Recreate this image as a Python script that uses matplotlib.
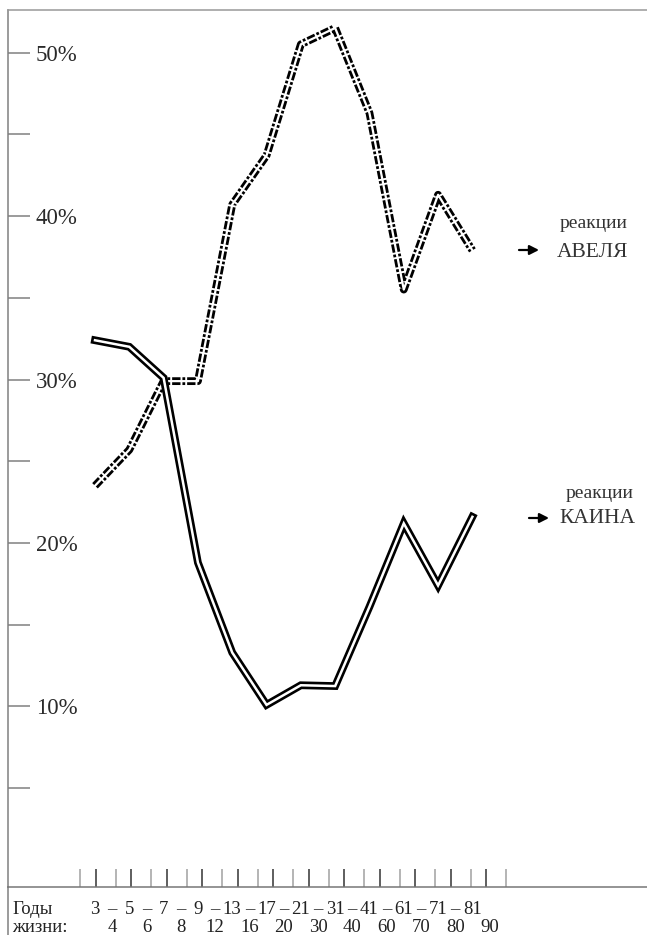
import matplotlib
matplotlib.use('Agg')
import matplotlib.pyplot as plt
from matplotlib.lines import Line2D

# age groups (start / end of each range)
ages_from = ['3', '5', '7', '9', '13', '17', '21', '31', '41', '61', '71', '81']
ages_to = ['4', '6', '8', '12', '16', '20', '30', '40', '60', '70', '80', '90']

# percentages
abel = [23.5, 25.7, 29.9, 29.9, 40.7, 43.7, 50.5, 51.5, 46.3, 35.5, 41.3, 37.9]
cain = [32.4, 32.0, 30.1, 18.8, 13.3, 10.1, 11.3, 11.25, 16.1, 21.2, 17.4, 21.6]

pct_major = [10, 20, 30, 40, 50]
pct_minor = [5, 15, 25, 35, 45]

plt.rcParams['font.family'] = ['Liberation Serif', 'DejaVu Serif']
plt.rcParams['lines.scale_dashes'] = False

W, H = 647, 935
fig = plt.figure(figsize=(W / 100, H / 100), dpi=100)
ax = fig.add_axes([8 / W, 48 / H, 639 / W, 877 / H])

x = list(range(len(cain)))

# double lines: thick black stroke with a thin white core
ax.plot(x, abel, color='black', lw=5.6, linestyle=(0, (6, 1.4, 2.0, 1.4)),
        dash_capstyle='butt', dash_joinstyle='round')
ax.plot(x, abel, color='white', lw=1.6, solid_joinstyle='round')
ax.plot(x, cain, color='black', lw=5.6, solid_joinstyle='miter')
ax.plot(x, cain, color='white', lw=1.8, solid_joinstyle='miter')

ax.set_xlim(-2.536, 16.09)
ax.set_ylim(-1.04, 52.6)

# spines
ax.spines['right'].set_visible(False)
ax.spines['top'].set_color('#999999')
ax.spines['left'].set_color('#808080')
ax.spines['bottom'].set_color('#777777')
for s in ['top', 'left', 'bottom']:
    ax.spines[s].set_linewidth(1.1)
ax.add_line(Line2D([0, 0], [0, -48 / 877], transform=ax.transAxes,
                   color='#808080', lw=1.1, clip_on=False))

# y axis: ticks inside, labels inside
ax.set_yticks(pct_major)
ax.set_yticklabels([str(p) + '%' for p in pct_major])
ax.set_yticks(pct_minor, minor=True)
ax.tick_params(axis='y', which='both', direction='in', length=15.8, width=1.1,
               color='#808080', pad=-20, labelsize=16.5, labelcolor='#2a2a2a')
for lab in ax.get_yticklabels():
    lab.set_horizontalalignment('left')

# x axis: paired little ticks standing on the bottom line
step = 35.5 / 34.3
dark_ticks = [0.015 + step * k for k in range(12)]
light_ticks = [-0.437 + step * k for k in range(13)]
ax.set_xticks(dark_ticks)
ax.set_xticklabels([])
ax.set_xticks(light_ticks, minor=True)
ax.tick_params(axis='x', which='major', direction='in', length=13, width=1.1,
               color='#333333')
ax.tick_params(axis='x', which='minor', direction='in', length=13, width=1.1,
               color='#a0a0a0')

# age labels under the axis
tr = ax.get_xaxis_transform()
y_top = (887 - 914) / 877
y_bot = (887 - 932) / 877
lab_kw = dict(fontsize=13.5, color='#222222', va='baseline', clip_on=False)
ax.text(0.0063, y_top, 'Годы', ha='left', transform=ax.transAxes, **lab_kw)
ax.text(0.0063, y_bot, 'жизни:', ha='left', transform=ax.transAxes, **lab_kw)
for i in range(len(ages_from)):
    ax.text(i, y_top, ages_from[i], ha='center', transform=tr, **lab_kw)
    if i < len(ages_from) - 1:
        ax.text(i + 0.5, y_top, '–', ha='center', transform=tr, **lab_kw)
    ax.text(i + 0.5, y_bot, ages_to[i], ha='center', transform=tr, **lab_kw)

# series captions on the right
txt = '#333333'
fig.text(628 / W, 1 - 228 / H, 'реакции', ha='right', va='baseline',
         fontsize=14, color=txt)
fig.text(628 / W, 1 - 257 / H, 'АВЕЛЯ', ha='right', va='baseline',
         fontsize=15.5, color=txt)
fig.text(633 / W, 1 - 498 / H, 'реакции', ha='right', va='baseline',
         fontsize=14, color=txt)
fig.text(635 / W, 1 - 523 / H, 'КАИНА', ha='right', va='baseline',
         fontsize=15.5, color=txt)
arr = dict(arrowstyle='-|>,head_length=0.55,head_width=0.28', color='black',
           lw=1.6, shrinkA=0, shrinkB=0)
ax.annotate('', xy=(539, H - 250), xytext=(519, H - 250),
            xycoords='figure pixels', textcoords='figure pixels', arrowprops=arr)
ax.annotate('', xy=(549, H - 518), xytext=(529, H - 518),
            xycoords='figure pixels', textcoords='figure pixels', arrowprops=arr)

fig.savefig('out.png', dpi=100, facecolor='white')
